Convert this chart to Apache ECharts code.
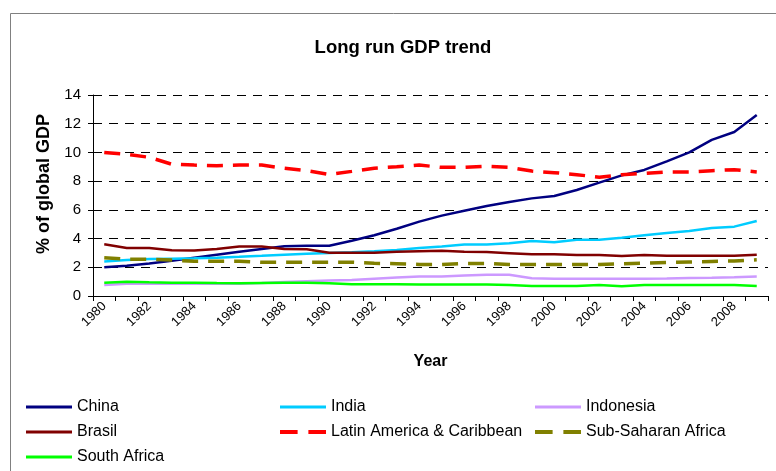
<!DOCTYPE html>
<html>
<head>
<meta charset="utf-8">
<script src="https://cdn.jsdelivr.net/npm/echarts@6/dist/echarts.min.js"></script>
<style>
  html, body { margin: 0; padding: 0; background: #fff; }
  #chart { width: 776px; height: 471px; }
</style>
</head>
<body>
<div id="chart"></div>
<script>
// Years on the category axis
const years = [];
for (let y = 1980; y <= 2009; y++) years.push(String(y));

// Share of global GDP (%) by region
const china = [2.0, 2.1, 2.27, 2.46, 2.67, 2.88, 3.09, 3.28, 3.46, 3.5, 3.5, 3.85, 4.23, 4.68, 5.18, 5.6, 5.94, 6.27, 6.55, 6.8, 6.97, 7.38, 7.9, 8.4, 8.78, 9.38, 10.0, 10.87, 11.42, 12.6];
const india = [2.4, 2.5, 2.57, 2.6, 2.63, 2.67, 2.73, 2.8, 2.88, 2.95, 3.0, 3.05, 3.12, 3.2, 3.35, 3.44, 3.58, 3.58, 3.67, 3.83, 3.74, 3.92, 3.92, 4.06, 4.23, 4.39, 4.53, 4.74, 4.83, 5.22];
const indonesia = [0.77, 0.85, 0.85, 0.85, 0.85, 0.85, 0.85, 0.9, 0.97, 1.03, 1.08, 1.12, 1.2, 1.28, 1.35, 1.35, 1.43, 1.48, 1.48, 1.23, 1.2, 1.2, 1.2, 1.2, 1.2, 1.22, 1.25, 1.27, 1.3, 1.35];
const brasil = [3.6, 3.35, 3.35, 3.18, 3.17, 3.28, 3.44, 3.44, 3.27, 3.25, 3.02, 3.02, 3.02, 3.09, 3.12, 3.15, 3.09, 3.06, 2.98, 2.9, 2.9, 2.86, 2.86, 2.78, 2.86, 2.8, 2.8, 2.8, 2.8, 2.88];
const latinAmerica = [10.0, 9.87, 9.66, 9.18, 9.12, 9.08, 9.12, 9.12, 8.9, 8.73, 8.47, 8.68, 8.9, 9.0, 9.12, 8.96, 8.96, 9.03, 8.96, 8.7, 8.59, 8.45, 8.27, 8.45, 8.54, 8.64, 8.64, 8.73, 8.8, 8.64];
const subSaharan = [2.67, 2.56, 2.56, 2.5, 2.42, 2.42, 2.42, 2.35, 2.35, 2.35, 2.35, 2.35, 2.28, 2.25, 2.2, 2.2, 2.27, 2.27, 2.2, 2.2, 2.2, 2.2, 2.2, 2.24, 2.28, 2.33, 2.37, 2.41, 2.44, 2.52];
const southAfrica = [0.93, 1.0, 0.95, 0.93, 0.93, 0.9, 0.88, 0.9, 0.92, 0.92, 0.88, 0.81, 0.81, 0.81, 0.8, 0.8, 0.8, 0.8, 0.77, 0.7, 0.7, 0.7, 0.77, 0.68, 0.77, 0.77, 0.77, 0.77, 0.77, 0.7];

const FONT = 'Liberation Sans, Arial, sans-serif';

// Legend swatches: a solid bar, or two dashes for the dashed series
const SOLID_ICON = 'path://M0,0h46v3h-46z';
const DASH_ICON = 'path://M0,0h18v4h-18z M29,0h18v4h-18z';

function solid(name, data, color) {
  return {
    name, type: 'line', data, symbol: 'none', color,
    lineStyle: { color, width: 2.5 },
    emphasis: { disabled: true }
  };
}
function dashed(name, data, color) {
  return {
    name, type: 'line', data, symbol: 'none', color,
    lineStyle: { color, width: 3.5, type: [16, 10] },
    emphasis: { disabled: true }
  };
}

// One legend entry placed in a three-column grid
function legendItem(left, rowCenter, name, icon, height) {
  return {
    left, top: rowCenter - 7, padding: 0,
    itemWidth: 46, itemHeight: height, itemGap: 0,
    textStyle: { fontFamily: FONT, fontSize: 16, color: '#000', lineHeight: 18 },
    data: [{ name, icon }], selectedMode: false
  };
}

const chart = echarts.init(document.getElementById('chart'), null, { renderer: 'canvas' });
chart.setOption({
  animation: false,
  backgroundColor: '#fff',
  title: {
    text: 'Long run GDP trend',
    left: 398, top: 33, textAlign: 'center',
    textStyle: { fontFamily: FONT, fontSize: 18.5, fontWeight: 'bold', color: '#000' }
  },
  graphic: [
    {
      type: 'rect', silent: true, z: -1,
      shape: { x: 10.5, y: 13.5, width: 800, height: 500 },
      style: { fill: 'none', stroke: '#808080', lineWidth: 1 }
    },
    {
      type: 'text', silent: true,
      x: 44, y: 184, rotation: Math.PI / 2,
      style: {
        text: '% of global GDP', fontFamily: FONT, fontSize: 18, fontWeight: 'bold',
        fill: '#000', align: 'center', verticalAlign: 'middle'
      }
    }
  ],
  legend: [
    legendItem(26, 405, 'China', SOLID_ICON, 3),
    legendItem(280, 405, 'India', SOLID_ICON, 3),
    legendItem(535, 405, 'Indonesia', SOLID_ICON, 3),
    legendItem(26, 430, 'Brasil', SOLID_ICON, 3),
    legendItem(280, 430, 'Latin America & Caribbean', DASH_ICON, 4),
    legendItem(535, 430, 'Sub-Saharan Africa', DASH_ICON, 4),
    legendItem(26, 455, 'South Africa', SOLID_ICON, 3)
  ],
  grid: { left: 93, right: 8, top: 95, bottom: 175, containLabel: false },
  xAxis: {
    type: 'category', data: years, boundaryGap: true,
    name: 'Year', nameLocation: 'middle', nameGap: 58,
    nameTextStyle: { fontFamily: FONT, fontSize: 16, fontWeight: 'bold', color: '#000' },
    axisLine: { lineStyle: { color: '#000', width: 1 } },
    axisTick: { show: true, interval: 0, length: 5, lineStyle: { color: '#000' } },
    axisLabel: { interval: 1, rotate: 45, margin: 8, fontFamily: FONT, fontSize: 13, color: '#000' },
    splitLine: { show: false }
  },
  yAxis: {
    type: 'value', min: 0, max: 14, interval: 2,
    axisLine: { show: true, lineStyle: { color: '#000', width: 1 } },
    axisTick: { show: true, length: 5, lineStyle: { color: '#000' } },
    axisLabel: { margin: 12, fontFamily: FONT, fontSize: 15, color: '#000' },
    splitLine: { show: true, lineStyle: { color: '#000', width: 1, type: [9, 7] } }
  },
  series: [
    solid('China', china, '#000080'),
    solid('India', india, '#00CCFF'),
    solid('Indonesia', indonesia, '#CC99FF'),
    solid('Brasil', brasil, '#800000'),
    dashed('Latin America & Caribbean', latinAmerica, '#FF0000'),
    dashed('Sub-Saharan Africa', subSaharan, '#808000'),
    solid('South Africa', southAfrica, '#00FF00')
  ]
});
</script>
</body>
</html>
